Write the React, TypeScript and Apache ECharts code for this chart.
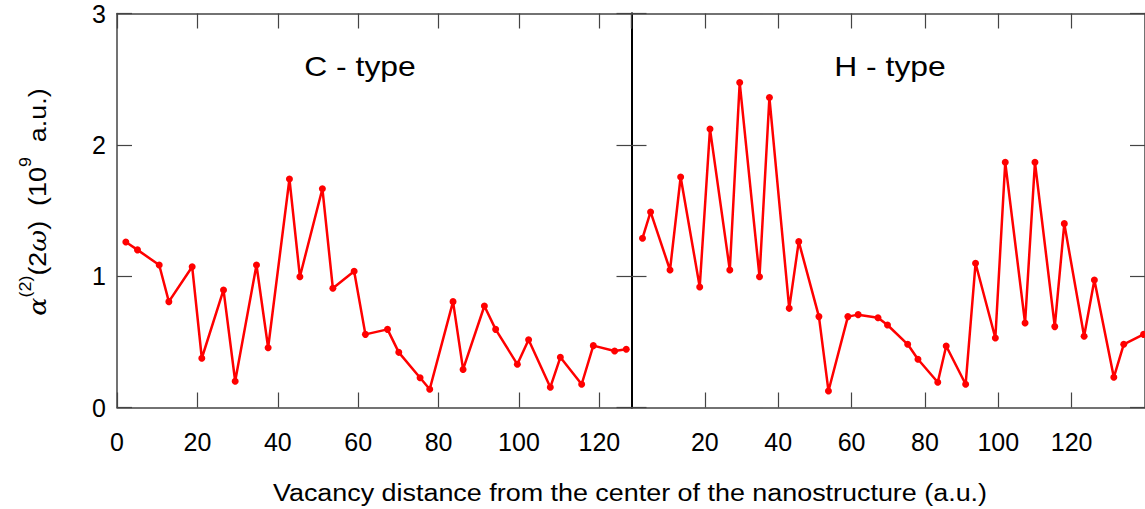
import React, { useEffect, useRef } from "react";
import * as echarts from "echarts";

const cTypeX = [2.2, 5.1, 10.5, 12.9, 18.7, 21.1, 26.5, 29.4, 34.7, 37.6, 42.9, 45.5, 51.1, 53.7, 59.0, 61.8, 67.3, 70.1, 75.4, 77.8, 83.6, 86.1, 91.4, 94.2, 99.6, 102.4, 107.8, 110.3, 115.6, 118.5, 123.8, 126.7];
const cTypeY = [1.26, 1.2, 1.085, 0.806, 1.072, 0.375, 0.895, 0.2, 1.085, 0.455, 1.74, 0.996, 1.666, 0.908, 1.037, 0.557, 0.595, 0.42, 0.227, 0.139, 0.806, 0.29, 0.773, 0.595, 0.329, 0.516, 0.154, 0.382, 0.177, 0.471, 0.43, 0.443];
const hTypeX = [3.0, 5.2, 10.5, 13.4, 18.6, 21.4, 26.8, 29.5, 34.9, 37.6, 43.0, 45.6, 51.1, 53.7, 59.0, 61.8, 67.2, 69.8, 75.3, 78.1, 83.5, 85.8, 91.1, 93.8, 99.2, 101.9, 107.3, 110.0, 115.4, 118.0, 123.4, 126.2, 131.5, 134.2, 139.6];
const hTypeY = [1.289, 1.489, 1.047, 1.755, 0.918, 2.121, 1.047, 2.474, 0.996, 2.36, 0.755, 1.263, 0.692, 0.126, 0.692, 0.707, 0.684, 0.628, 0.481, 0.367, 0.192, 0.468, 0.177, 1.098, 0.529, 1.867, 0.643, 1.867, 0.616, 1.4, 0.542, 0.971, 0.23, 0.481, 0.557];
const yTicks = [0, 1, 2, 3];
const xTickStep = 20;
const panelTitles = ["C - type", "H - type"];
const xAxisName = "Vacancy distance from the center of the nanostructure (a.u.)";

const FONT = "Liberation Sans, Arial, sans-serif";
const FRAME = "#444";

export default function App() {
  const ref = useRef<HTMLDivElement>(null);
  useEffect(() => {
    if (!ref.current) return;
    const chart = echarts.init(ref.current, undefined, { renderer: "svg" });
    const tick = { show: true, inside: true, length: 15, lineStyle: { color: FRAME, width: 1.2 } };
    const frameLine = { show: true, onZero: false, lineStyle: { color: FRAME, width: 1.5 } };
    const divLine = { show: true, onZero: false, lineStyle: { color: "#000", width: 2 } };
    const label = { show: true, fontSize: 25, color: "#000", fontFamily: FONT };
    const baseX = (grid: number, max: number, pos: string, showLabel: boolean, showMin: boolean) => ({
      type: "value",
      gridIndex: grid,
      min: 0,
      max,
      interval: xTickStep,
      position: pos,
      axisLine: frameLine,
      axisTick: tick,
      axisLabel: showLabel
        ? { ...label, margin: 22, showMaxLabel: false, showMinLabel: showMin }
        : { show: false },
      splitLine: { show: false },
    });
    const baseY = (grid: number, pos: string, showLabel: boolean, line: any) => ({
      type: "value",
      gridIndex: grid,
      min: yTicks[0],
      max: yTicks[yTicks.length - 1],
      interval: 1,
      position: pos,
      axisLine: line,
      axisTick: tick,
      axisLabel: showLabel ? { ...label, margin: 11 } : { show: false },
      splitLine: { show: false },
    });
    const rich = {
      a: { fontSize: 24, fontStyle: "italic", fontFamily: "DejaVu Serif, serif", fill: "#000", lineHeight: 32, verticalAlign: "bottom" },
      n: { fontSize: 24, fontFamily: FONT, fill: "#000", lineHeight: 32, verticalAlign: "bottom" },
      s: { fontSize: 16, fontFamily: FONT, fill: "#000", lineHeight: 32, verticalAlign: "top" },
    };
    chart.setOption({
      animation: false,
      backgroundColor: "#fff",
      grid: [
        { left: 117, top: 13.5, width: 514.5, height: 394 },
        { left: 631.5, top: 13.5, width: 515, height: 394 },
      ],
      xAxis: [
        baseX(0, 128, "bottom", true, true),
        baseX(0, 128, "top", false, true),
        baseX(1, 140, "bottom", true, false),
        baseX(1, 140, "top", false, false),
      ],
      yAxis: [
        baseY(0, "left", true, frameLine),
        baseY(0, "right", false, divLine),
        baseY(1, "left", false, divLine),
        baseY(1, "right", false, frameLine),
      ],
      graphic: [
        { type: "text", x: 360, y: 66, scaleX: 1.18, style: { text: panelTitles[0], fontSize: 27, fontFamily: FONT, fill: "#000", align: "center", verticalAlign: "middle" } },
        { type: "text", x: 890, y: 66, scaleX: 1.18, style: { text: panelTitles[1], fontSize: 27, fontFamily: FONT, fill: "#000", align: "center", verticalAlign: "middle" } },
        { type: "text", x: 630, y: 493, scaleX: 1.17, style: { text: xAxisName, fontSize: 23, fontFamily: FONT, fill: "#000", align: "center", verticalAlign: "middle" } },
        {
          type: "text",
          x: 34,
          y: 202,
          rotation: Math.PI / 2,
          scaleX: 1.12,
          style: {
            text: "{a|α}{s|(2)}{n|(2}{a|ω}{n|)  (10}{s|9}{n|  a.u.)}",
            rich,
            align: "center",
            verticalAlign: "middle",
          },
        },
      ],
      series: [
        {
          type: "line",
          xAxisIndex: 0,
          yAxisIndex: 0,
          data: cTypeX.map((x, i) => [x, cTypeY[i]]),
          symbol: "circle",
          symbolSize: 7,
          lineStyle: { color: "#ff0000", width: 2.5 },
          itemStyle: { color: "#ff0000" },
        },
        {
          type: "line",
          xAxisIndex: 2,
          yAxisIndex: 2,
          data: hTypeX.map((x, i) => [x, hTypeY[i]]),
          symbol: "circle",
          symbolSize: 7,
          clip: true,
          lineStyle: { color: "#ff0000", width: 2.5 },
          itemStyle: { color: "#ff0000" },
        },
      ],
    });
    return () => chart.dispose();
  }, []);
  return <div ref={ref} style={{ width: 1145, height: 509, position: "absolute", left: 0, top: 0 }} />;
}
